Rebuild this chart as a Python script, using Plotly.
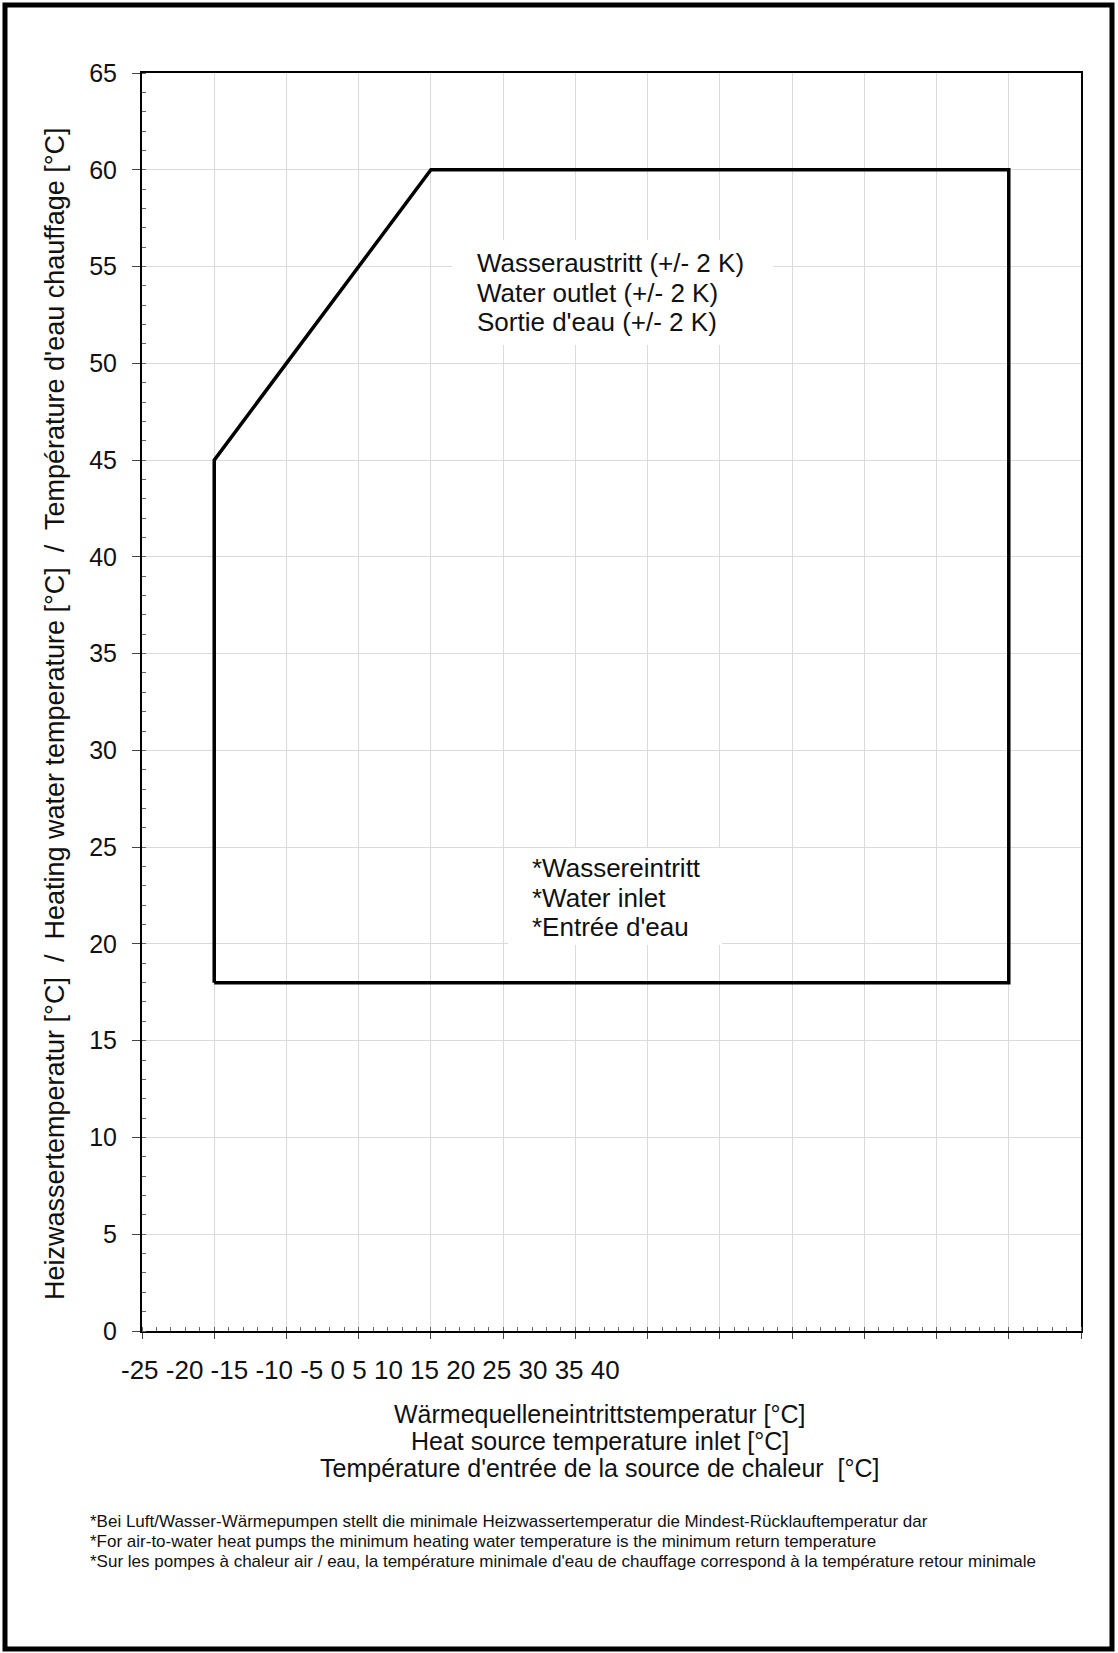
import plotly.graph_objects as go

# ---------------- data ----------------
envelope_x = [-20, -20, -5, 35, 35, -20]      # heat source temperature [°C]
envelope_y = [18, 45, 60, 60, 18, 18]         # heating water temperature [°C]

x_tick_values = [-25, -20, -15, -10, -5, 0, 5, 10, 15, 20, 25, 30, 35, 40]
y_tick_values = [0, 5, 10, 15, 20, 25, 30, 35, 40, 45, 50, 55, 60, 65]

outlet_lines = ["Wasseraustritt (+/- 2 K)", "Water outlet (+/- 2 K)", "Sortie d'eau (+/- 2 K)"]
inlet_lines = ["*Wassereintritt", "*Water inlet", "*Entrée d'eau"]
x_title_lines = ["Wärmequelleneintrittstemperatur [°C]",
                 "Heat source temperature inlet [°C]",
                 "Température d'entrée de la source de chaleur  [°C]"]
y_title = "Heizwassertemperatur [°C]  /  Heating water temperature [°C]  /  Température d'eau chauffage [°C]"
footnotes = ["*Bei Luft/Wasser-Wärmepumpen stellt die minimale Heizwassertemperatur die Mindest-Rücklauftemperatur dar",
             "*For air-to-water heat pumps the minimum heating water temperature is the minimum return temperature",
             "*Sur les pompes à chaleur air / eau, la température minimale d'eau de chauffage correspond à la température retour minimale"]

# ---------------- layout geometry (pixels) ----------------
W, H = 1118, 1653
L, R, T, B = 142, 37, 73, 322
PW, PH = W - L - R, H - T - B
FONT = "Liberation Sans, Arial, Helvetica, sans-serif"


def xp(px):
    return (px - L) / PW


def yp(py):
    return (H - B - py) / PH


fig = go.Figure()
fig.add_trace(go.Scatter(x=envelope_x, y=envelope_y, mode="lines",
                         line=dict(color="black", width=3.5),
                         hoverinfo="skip", showlegend=False))

ann = []
# white backgrounds of the two text boxes (hide the gridlines)
for cx, cy, bw, bh in [(612.5, 292.5, 321, 105), (615, 896.5, 214, 97)]:
    ann.append(dict(text=" ", x=xp(cx), y=yp(cy), xref="paper", yref="paper",
                    xanchor="center", yanchor="middle", width=bw, height=bh,
                    bgcolor="white", borderpad=0, borderwidth=0, showarrow=False))
# x tick labels (crammed string, as in the original)
ann.append(dict(text=" ".join(str(v) for v in x_tick_values), x=xp(370), y=yp(1370),
                xref="paper", yref="paper", xanchor="center", yanchor="middle",
                showarrow=False, font=dict(size=26, color="#111", family=FONT)))
# x title
for i, t in enumerate(x_title_lines):
    ann.append(dict(text=t, x=xp(600), y=yp(1414 + 27 * i), xref="paper", yref="paper",
                    xanchor="center", yanchor="middle", showarrow=False,
                    font=dict(size=25, color="#111", family=FONT)))
# y title
ann.append(dict(text=y_title, x=xp(55), y=yp(714), xref="paper", yref="paper",
                xanchor="center", yanchor="middle", textangle=-90, showarrow=False,
                font=dict(size=27, color="#111", family=FONT)))
# outlet text
for i, t in enumerate(outlet_lines):
    ann.append(dict(text=t, x=xp(476), y=yp(263 + 29.5 * i), xref="paper", yref="paper",
                    xanchor="left", yanchor="middle", align="left", borderpad=0,
                    showarrow=False, font=dict(size=26, color="#111", family=FONT)))
# inlet text
for i, t in enumerate(inlet_lines):
    ann.append(dict(text=t, x=xp(531), y=yp(868 + 29.5 * i), xref="paper", yref="paper",
                    xanchor="left", yanchor="middle", align="left", borderpad=0,
                    showarrow=False, font=dict(size=26, color="#111", family=FONT)))
# footnotes
for i, t in enumerate(footnotes):
    ann.append(dict(text=t, x=xp(88), y=yp(1521 + 20 * i), xref="paper", yref="paper",
                    xanchor="left", yanchor="middle", showarrow=False,
                    font=dict(size=17, color="#111", family=FONT)))

fig.update_layout(
    width=W, height=H, autosize=False,
    margin=dict(l=L, r=R, t=T, b=B, pad=0),
    paper_bgcolor="white", plot_bgcolor="white",
    font=dict(family=FONT, size=25, color="#111"),
    annotations=ann,
    shapes=[dict(type="rect", xref="paper", yref="paper",
                 x0=xp(5), x1=xp(1112), y0=yp(1649), y1=yp(5),
                 line=dict(color="black", width=5), fillcolor="rgba(0,0,0,0)", layer="above")],
    xaxis=dict(range=[x_tick_values[0], x_tick_values[-1]], tickmode="array", tickvals=x_tick_values,
               showticklabels=False, showgrid=True, gridcolor="#dadada", gridwidth=1,
               showline=True, linecolor="black", linewidth=2, mirror=True,
               ticks="outside", ticklen=6, tickcolor="#444", tickwidth=1, zeroline=False,
               minor=dict(ticks="inside", dtick=1, ticklen=4, tickcolor="#666", tickwidth=1, showgrid=False)),
    yaxis=dict(range=[y_tick_values[0], y_tick_values[-1]], tickmode="array", tickvals=y_tick_values,
               showgrid=True, gridcolor="#dadada", gridwidth=1,
               showline=True, linecolor="black", linewidth=2, mirror=True,
               ticks="outside", ticklen=8, tickcolor="#444", tickwidth=1, zeroline=False,
               ticklabelstandoff=10,
               tickfont=dict(size=25, color="#111", family=FONT),
               minor=dict(ticks="inside", dtick=1, ticklen=4, tickcolor="#666", tickwidth=1, showgrid=False)),
)

fig.write_html("out.html")
